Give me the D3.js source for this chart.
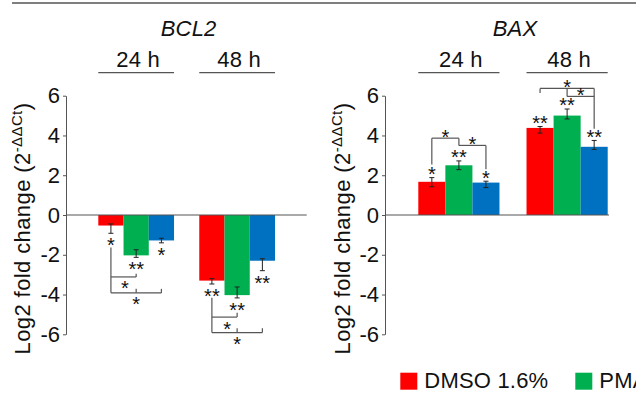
<!DOCTYPE html>
<html>
<head>
<meta charset="utf-8">
<script src="https://cdn.jsdelivr.net/npm/d3@7"></script>
<style>
  html, body { margin: 0; padding: 0; background: #fff; overflow: hidden; }
  svg { display: block; }
</style>
</head>
<body>
<script>
// ---------------- DATA ----------------
const genes = ["BCL2", "BAX"];
const timepoints = ["24 h", "48 h"];
const legendLabels = ["DMSO 1.6%", "PMA"];
const seriesColors = ["#ff0000", "#00b050", "#0070c0"];
const yTicks = [-6, -4, -2, 0, 2, 4, 6];

// Log2 fold change, rows = timepoints, cols = series
const bcl2Values = [[-0.53, -2.03, -1.28], [-3.30, -4.03, -2.30]];
const bcl2ErrUp = [[0.08, 0.28, 0.11], [0.10, 0.41, 0.10]];
const bcl2ErrDown = [[0.39, 0.10, 0.12], [0.17, 0.14, 0.50]];
const bcl2Stars = [["*", "**", "*"], ["**", "**", "**"]];

const baxValues = [[1.67, 2.50, 1.63], [4.38, 5.00, 3.43]];
const baxErrUp = [[0.21, 0.22, 0.07], [0.07, 0.33, 0.32]];
const baxErrDown = [[0.25, 0.22, 0.25], [0.26, 0.17, 0.13]];
const baxStars = [["*", "**", "*"], ["**", "**", "**"]];

// significance brackets: gene, timepoint index, from series, to series, level (y units),
// legs: [series, end level], star position (series index), star side (+1 above, -1 below)
const brackets = [
  { gene: "BCL2", t: 0, from: 0, to: 1, level: -3.115, legs: [[1, -2.95]], star: 0.55, side: -1 },
  { gene: "BCL2", t: 0, from: 0, to: 2, level: -3.915, legs: [[0, -1.635], [1, -3.715], [2, -3.715]], star: 1, side: -1 },
  { gene: "BCL2", t: 1, from: 0, to: 1, level: -5.135, legs: [[1, -4.915]], star: 0.6, side: -1 },
  { gene: "BCL2", t: 1, from: 0, to: 2, level: -5.915, legs: [[0, -4.165], [1, -5.7], [2, -5.7]], star: 1, side: -1 },
  { gene: "BAX", t: 0, from: 0, to: 1, level: 3.865, legs: [[0, 2.535], [1, 3.5]], star: 0.5, side: 1 },
  { gene: "BAX", t: 0, from: 1, to: 2, level: 3.5, legs: [[2, 2.3]], star: 1.5, side: 1 },
  { gene: "BAX", t: 1, from: 0, to: 2, level: 6.365, legs: [[0, 6.135], [2, 4.335], [1, 5.965]], star: 1, side: 1 },
  { gene: "BAX", t: 1, from: 1, to: 2, level: 5.965, legs: [], star: 1.5, side: 1 }
];

const geneData = {
  BCL2: { values: bcl2Values, up: bcl2ErrUp, down: bcl2ErrDown, stars: bcl2Stars },
  BAX: { values: baxValues, up: baxErrUp, down: baxErrDown, stars: baxStars }
};

// ---------------- LAYOUT ----------------
const W = 636, H = 393;
const FONT = "Arial, 'Liberation Sans', Helvetica, sans-serif";
const FS = 22, LS = 0.2;
const panels = [
  { gene: "BCL2", axisX: 66, bandStart: 98.3, bandEnd: 275, zeroEnd: 306.7, labelX: 30 },
  { gene: "BAX", axisX: 385, bandStart: 418.3, bandEnd: 607.7, zeroEnd: 609, labelX: 350 }
];

const svg = d3.select("body").append("svg")
  .attr("width", W).attr("height", H)
  .style("font-family", FONT);

const y = d3.scaleLinear().domain([-6, 6]).range([334.3, 95.7]);

// top rule
svg.append("line")
  .attr("x1", 12).attr("x2", W).attr("y1", 3).attr("y2", 3)
  .attr("stroke", "#555").attr("stroke-width", 1.5);

panels.forEach(p => {
  const d = geneData[p.gene];
  const g = svg.append("g");
  const x0 = d3.scaleBand().domain(d3.range(timepoints.length))
    .range([p.bandStart, p.bandEnd]).paddingInner(0.25).paddingOuter(0);
  const x1 = d3.scaleBand().domain(d3.range(3)).range([0, x0.bandwidth()]).padding(0);
  const cx = (t, s) => x0(t) + x1.step() * s + x1.bandwidth() / 2;

  // title
  g.append("text")
    .attr("x", (p.bandStart + p.bandEnd) / 2 + 2).attr("y", 36)
    .attr("text-anchor", "middle")
    .attr("font-size", FS).attr("letter-spacing", LS)
    .attr("font-style", "italic").attr("fill", "#111")
    .text(p.gene);

  // timepoint labels + underline
  timepoints.forEach((tp, t) => {
    g.append("text")
      .attr("x", x0(t) + x0.bandwidth() / 2 + 2).attr("y", 67)
      .attr("text-anchor", "middle").attr("font-size", FS).attr("letter-spacing", LS)
      .attr("fill", "#111")
      .text(tp);
    g.append("line")
      .attr("x1", x0(t)).attr("x2", x0(t) + x0.bandwidth())
      .attr("y1", 72.7).attr("y2", 72.7)
      .attr("stroke", "#555").attr("stroke-width", 1.3);
  });

  // axis
  const axis = d3.axisLeft(y).tickValues(yTicks).tickSize(3).tickSizeOuter(0)
    .tickPadding(3).tickFormat(v => String(v));
  const ag = g.append("g").attr("transform", `translate(${p.axisX},0)`).call(axis);
  ag.select(".domain").attr("stroke", "#555").attr("stroke-width", 1);
  ag.selectAll(".tick line").attr("stroke", "#555");
  ag.selectAll(".tick text").attr("font-size", FS).attr("fill", "#111")
    .attr("font-family", FONT);

  // y label
  const lab = g.append("text")
    .attr("transform", `translate(${p.labelX},228.5) rotate(-90)`)
    .attr("text-anchor", "middle").attr("font-size", FS)
    .attr("letter-spacing", 0.4).attr("fill", "#111");
  lab.append("tspan").text("Log2 fold change (2");
  lab.append("tspan").attr("font-size", 15).attr("dy", -8).text("-ΔΔCt");
  lab.append("tspan").attr("dy", 8).text(")");

  // bars
  timepoints.forEach((tp, t) => {
    d.values[t].forEach((v, s) => {
      g.append("rect")
        .attr("x", x0(t) + x1(s)).attr("width", x1.bandwidth())
        .attr("y", y(Math.max(0, v)))
        .attr("height", Math.abs(y(v) - y(0)))
        .attr("fill", seriesColors[s]);
    });
  });

  // zero line
  g.append("line")
    .attr("x1", p.axisX).attr("x2", p.zeroEnd)
    .attr("y1", y(0)).attr("y2", y(0))
    .attr("stroke", "#555").attr("stroke-width", 1.2);

  // error bars + stars
  timepoints.forEach((tp, t) => {
    d.values[t].forEach((v, s) => {
      const xc = cx(t, s);
      const hi = y(v + d.up[t][s]), lo = y(v - d.down[t][s]);
      const eg = g.append("g").attr("stroke", "#222").attr("stroke-width", 1);
      eg.append("line").attr("x1", xc).attr("x2", xc).attr("y1", hi).attr("y2", lo);
      eg.append("line").attr("x1", xc - 2.5).attr("x2", xc + 2.5).attr("y1", hi).attr("y2", hi);
      eg.append("line").attr("x1", xc - 2.5).attr("x2", xc + 2.5).attr("y1", lo).attr("y2", lo);
      const starY = v >= 0 ? hi - 8 : lo + 7.5;
      g.append("text")
        .attr("x", xc).attr("y", starY + 0.57 * 20)
        .attr("text-anchor", "middle").attr("font-size", 20).attr("fill", "#111")
        .text(d.stars[t][s]);
    });
  });

  // significance brackets
  brackets.filter(b => b.gene === p.gene).forEach(b => {
    const bg = g.append("g").attr("stroke", "#555").attr("stroke-width", 1.2).attr("fill", "none");
    bg.append("line")
      .attr("x1", cx(b.t, b.from)).attr("x2", cx(b.t, b.to))
      .attr("y1", y(b.level)).attr("y2", y(b.level));
    b.legs.forEach(([s, end]) => {
      bg.append("line")
        .attr("x1", cx(b.t, s)).attr("x2", cx(b.t, s))
        .attr("y1", y(b.level)).attr("y2", y(end));
    });
    const sx = cx(b.t, 0) + x1.step() * b.star;
    const sy = b.side < 0 ? y(b.level) + 7 : y(b.level) - 6;
    g.append("text")
      .attr("x", sx).attr("y", sy + 0.57 * 20)
      .attr("text-anchor", "middle").attr("font-size", 20).attr("fill", "#111")
      .text("*");
  });
});

// legend
const lg = svg.append("g");
legendLabels.forEach((name, i) => {
  const lx = 400.3 + i * 175;
  lg.append("rect").attr("x", lx).attr("y", 372.7).attr("width", 17).attr("height", 17)
    .attr("fill", seriesColors[i]);
  lg.append("text").attr("x", lx + 24).attr("y", 388.3)
    .attr("font-size", FS).attr("letter-spacing", LS).attr("fill", "#111").text(name);
});
</script>
</body>
</html>
